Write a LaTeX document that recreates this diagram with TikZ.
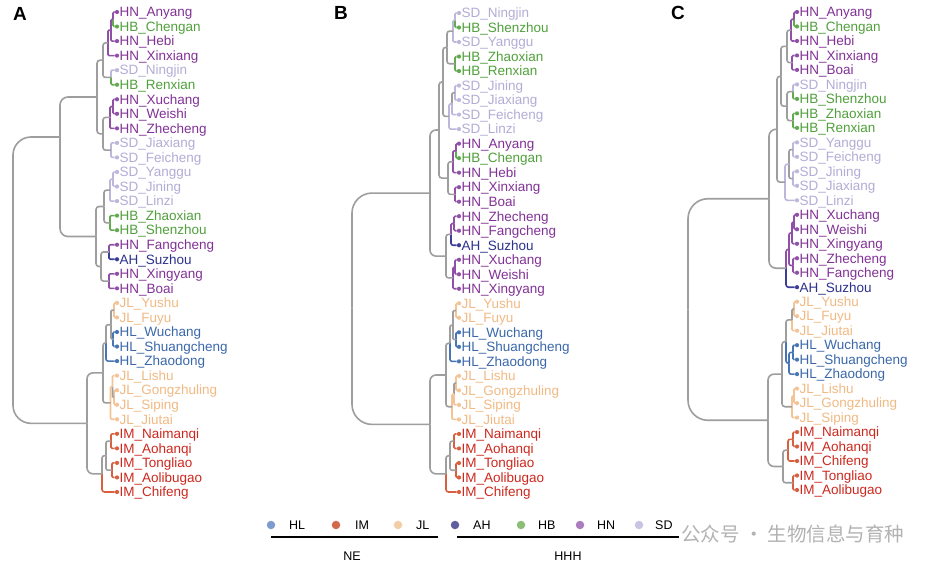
\documentclass[tikz,border=0pt]{standalone}
\usepackage{fontspec}
\setmainfont{Liberation Sans}
\newfontfamily\cjk{Noto Sans CJK SC}
\usetikzlibrary{calc}
\definecolor{HL}{RGB}{72,118,180}\definecolor{HLt}{RGB}{58,104,170}
\definecolor{IM}{RGB}{216,96,62}\definecolor{IMt}{RGB}{205,40,30}
\definecolor{JL}{RGB}{243,196,150}\definecolor{JLt}{RGB}{241,186,132}
\definecolor{AH}{RGB}{58,62,150}\definecolor{AHt}{RGB}{45,50,140}
\definecolor{HB}{RGB}{98,170,78}\definecolor{HBt}{RGB}{80,160,60}
\definecolor{HN}{RGB}{145,80,168}\definecolor{HNt}{RGB}{130,50,150}
\definecolor{SD}{RGB}{188,184,220}\definecolor{SDt}{RGB}{178,173,214}
\definecolor{GR}{RGB}{158,158,158}
\definecolor{LHL}{RGB}{125,155,205}\definecolor{LIM}{RGB}{210,105,75}
\definecolor{LJL}{RGB}{243,205,165}\definecolor{LAH}{RGB}{95,95,160}
\definecolor{LHB}{RGB}{140,190,120}\definecolor{LHN}{RGB}{170,125,190}
\definecolor{LSD}{RGB}{200,196,225}
\newcommand\leaf[4]{%
  \node[dot,fill=#3] (#1t#2) at (\tx,{\yz+(#2-1)*\dd}) {};
  \node[lab,text=#3t] (#1L#2) at (#1t#2) {#3\_#4};}
\newcommand\nd[4]{%
  \path ($(#3)!0.5!(#4)$) coordinate (#1m);
  \coordinate (#1) at (#1m -| #2,0);}
\newcommand\ed[4][1.2pt]{\draw[br,draw=#2,rounded corners=#1] (#3) |- (#4);}
\begin{document}
\begin{tikzpicture}[x=1pt,y=-1pt,
  br/.style={line width=1.6pt},
  dot/.style={circle,inner sep=0pt,minimum size=4.2pt,draw=none},
  lab/.style={anchor=base west,inner sep=0pt,xshift=2.4pt,yshift=-4.8pt,font=\fontsize{13.5}{15}\selectfont},
  panel/.style={anchor=base west,inner sep=0pt,font=\bfseries\fontsize{19}{21}\selectfont},
  ldot/.style={circle,inner sep=0pt,minimum size=8.5pt,draw=none},
  ltx/.style={anchor=west,inner sep=0pt,font=\fontsize{12.5}{14}\selectfont},
  gtx/.style={inner sep=0pt,font=\fontsize{12.5}{14}\selectfont}]
\fill[white] (0,0) rectangle (936,569);
\useasboundingbox (0,0) rectangle (936,569);
% ================= Panel A
\node[panel] (pA) at (13,20.5) {A};
\def\tx{117}\def\yz{12}\def\dd{14.545}
\leaf{A}{1}{HN}{Anyang}\leaf{A}{2}{HB}{Chengan}\leaf{A}{3}{HN}{Hebi}
\leaf{A}{4}{HN}{Xinxiang}\leaf{A}{5}{SD}{Ningjin}\leaf{A}{6}{HB}{Renxian}
\leaf{A}{7}{HN}{Xuchang}\leaf{A}{8}{HN}{Weishi}\leaf{A}{9}{HN}{Zhecheng}
\leaf{A}{10}{SD}{Jiaxiang}\leaf{A}{11}{SD}{Feicheng}\leaf{A}{12}{SD}{Yanggu}
\leaf{A}{13}{SD}{Jining}\leaf{A}{14}{SD}{Linzi}\leaf{A}{15}{HB}{Zhaoxian}
\leaf{A}{16}{HB}{Shenzhou}\leaf{A}{17}{HN}{Fangcheng}\leaf{A}{18}{AH}{Suzhou}
\leaf{A}{19}{HN}{Xingyang}\leaf{A}{20}{HN}{Boai}\leaf{A}{21}{JL}{Yushu}
\leaf{A}{22}{JL}{Fuyu}\leaf{A}{23}{HL}{Wuchang}\leaf{A}{24}{HL}{Shuangcheng}
\leaf{A}{25}{HL}{Zhaodong}\leaf{A}{26}{JL}{Lishu}\leaf{A}{27}{JL}{Gongzhuling}
\leaf{A}{28}{JL}{Siping}\leaf{A}{29}{JL}{Jiutai}\leaf{A}{30}{IM}{Naimanqi}
\leaf{A}{31}{IM}{Aohanqi}\leaf{A}{32}{IM}{Tongliao}\leaf{A}{33}{IM}{Aolibugao}
\leaf{A}{34}{IM}{Chifeng}
\nd{An1}{113}{At1}{At2}\nd{An2}{111}{An1}{At3}\nd{An3}{108}{An2}{At4}
\nd{An4}{111}{At5}{At6}\nd{An5}{103}{An3}{An4}
\nd{An6}{113}{At7}{At8}\nd{An7}{110}{An6}{At9}\nd{An8}{111}{At10}{At11}
\nd{An9}{103}{An7}{An8}\nd{An10}{97}{An5}{An9}
\nd{An11}{113}{At12}{At13}\nd{An12}{110}{An11}{At14}\nd{An13}{110}{At15}{At16}
\nd{An14}{104}{An12}{An13}\nd{An15}{109}{At17}{At18}\nd{An16}{109}{At19}{At20}
\nd{An17}{101}{An15}{An16}\nd{An18}{96}{An14}{An17}
\coordinate (An19) at (60,137);
\nd{An20}{114}{At21}{At22}\nd{An21}{113}{At23}{At24}\nd{An22}{111}{An20}{An21}
\nd{An23}{106}{An22}{At25}\nd{An24}{114}{At27}{At28}\nd{An25}{112.5}{At26}{An24}
\nd{An26}{110.5}{An25}{At29}\nd{An27}{103}{An23}{An26}
\nd{An28}{111}{At30}{At31}\nd{An29}{112}{At32}{At33}\nd{An30}{106}{An28}{An29}
\nd{An31}{102}{An30}{At34}\nd{An32}{87}{An27}{An31}
\nd{Ar}{13}{An19}{An32}
\ed{HN}{An1}{At1}\ed{HB}{An1}{At2}\ed{HN}{An2}{An1}\ed{HN}{An2}{At3}
\ed{HN}{An3}{An2}\ed{HN}{An3}{At4}\ed{SD}{An4}{At5}\ed{HB}{An4}{At6}
\ed[2.5pt]{GR}{An5}{An3}\ed[2.5pt]{GR}{An5}{An4}
\ed{HN}{An6}{At7}\ed{HN}{An6}{At8}\ed{HN}{An7}{An6}\ed{HN}{An7}{At9}
\ed{SD}{An8}{At10}\ed{SD}{An8}{At11}
\ed[2.5pt]{GR}{An9}{An7}\ed[2.5pt]{GR}{An9}{An8}
\ed[3pt]{GR}{An10}{An5}\ed[3pt]{GR}{An10}{An9}
\ed{SD}{An11}{At12}\ed{SD}{An11}{At13}\ed{SD}{An12}{An11}\ed{SD}{An12}{At14}
\ed{HB}{An13}{At15}\ed{HB}{An13}{At16}
\ed[2.5pt]{GR}{An14}{An12}\ed[2.5pt]{GR}{An14}{An13}
\ed{HN}{An15}{At17}\ed{AH}{An15}{At18}\ed{HN}{An16}{At19}\ed{HN}{An16}{At20}
\ed[2.5pt]{GR}{An17}{An15}\ed[2.5pt]{GR}{An17}{An16}
\ed[3pt]{GR}{An18}{An14}\ed[3pt]{GR}{An18}{An17}
\ed[8pt]{GR}{An19}{An10}\ed[8pt]{GR}{An19}{An18}
\ed{JL}{An20}{At21}\ed{JL}{An20}{At22}\ed{HL}{An21}{At23}\ed{HL}{An21}{At24}
\ed{GR}{An22}{An20}\ed{GR}{An22}{An21}\ed[2pt]{GR}{An23}{An22}\ed[2pt]{HL}{An23}{At25}
\ed{JL}{An24}{At27}\ed{JL}{An24}{At28}\ed{JL}{An25}{At26}\ed{GR}{An25}{An24}
\ed{JL}{An26}{An25}\ed{JL}{An26}{At29}
\ed[2.5pt]{GR}{An27}{An23}\ed[2.5pt]{GR}{An27}{An26}
\ed{IM}{An28}{At30}\ed{IM}{An28}{At31}\ed{IM}{An29}{At32}\ed{IM}{An29}{At33}
\ed[2pt]{GR}{An30}{An28}\ed[2pt]{GR}{An30}{An29}
\ed[2.5pt]{GR}{An31}{An30}\ed[2.5pt]{IM}{An31}{At34}
\ed[6pt]{GR}{An32}{An27}\ed[6pt]{GR}{An32}{An31}
\ed[18pt]{GR}{Ar}{An19}\ed[18pt]{GR}{Ar}{An32}
% ================= Panel B
\node[panel] (pB) at (334,20) {B};
\def\tx{459}\def\yz{13}\def\dd{14.515}
\leaf{B}{1}{SD}{Ningjin}\leaf{B}{2}{HB}{Shenzhou}\leaf{B}{3}{SD}{Yanggu}
\leaf{B}{4}{HB}{Zhaoxian}\leaf{B}{5}{HB}{Renxian}\leaf{B}{6}{SD}{Jining}
\leaf{B}{7}{SD}{Jiaxiang}\leaf{B}{8}{SD}{Feicheng}\leaf{B}{9}{SD}{Linzi}
\leaf{B}{10}{HN}{Anyang}\leaf{B}{11}{HB}{Chengan}\leaf{B}{12}{HN}{Hebi}
\leaf{B}{13}{HN}{Xinxiang}\leaf{B}{14}{HN}{Boai}\leaf{B}{15}{HN}{Zhecheng}
\leaf{B}{16}{HN}{Fangcheng}\leaf{B}{17}{AH}{Suzhou}\leaf{B}{18}{HN}{Xuchang}
\leaf{B}{19}{HN}{Weishi}\leaf{B}{20}{HN}{Xingyang}\leaf{B}{21}{JL}{Yushu}
\leaf{B}{22}{JL}{Fuyu}\leaf{B}{23}{HL}{Wuchang}\leaf{B}{24}{HL}{Shuangcheng}
\leaf{B}{25}{HL}{Zhaodong}\leaf{B}{26}{JL}{Lishu}\leaf{B}{27}{JL}{Gongzhuling}
\leaf{B}{28}{JL}{Siping}\leaf{B}{29}{JL}{Jiutai}\leaf{B}{30}{IM}{Naimanqi}
\leaf{B}{31}{IM}{Aohanqi}\leaf{B}{32}{IM}{Tongliao}\leaf{B}{33}{IM}{Aolibugao}
\leaf{B}{34}{IM}{Chifeng}
\nd{Bn1}{455}{Bt1}{Bt2}\nd{Bn2}{453}{Bn1}{Bt3}\nd{Bn3}{455}{Bt4}{Bt5}
\nd{Bn4}{447}{Bn2}{Bn3}\nd{Bn5}{455}{Bt6}{Bt7}\nd{Bn6}{452}{Bn5}{Bt8}
\nd{Bn7}{449}{Bn6}{Bt9}\nd{Bn8}{443}{Bn4}{Bn7}
\nd{Bn9}{456}{Bt10}{Bt11}\nd{Bn10}{453}{Bn9}{Bt12}\nd{Bn11}{455}{Bt13}{Bt14}
\nd{Bn12}{448}{Bn10}{Bn11}\nd{Bn13}{439}{Bn8}{Bn12}
\nd{Bn14}{454}{Bt15}{Bt16}\nd{Bn15}{451}{Bn14}{Bt17}\nd{Bn16}{455}{Bt18}{Bt19}
\nd{Bn17}{453}{Bn16}{Bt20}\nd{Bn18}{446}{Bn15}{Bn17}\nd{Bn19}{430}{Bn13}{Bn18}
\nd{Bn20}{456}{Bt21}{Bt22}\nd{Bn21}{456}{Bt23}{Bt24}\nd{Bn22}{453}{Bn20}{Bn21}
\nd{Bn23}{450}{Bn22}{Bt25}\nd{Bn24}{456}{Bt26}{Bt27}\nd{Bn25}{454}{Bn24}{Bt28}
\nd{Bn26}{452}{Bn25}{Bt29}\nd{Bn27}{446}{Bn23}{Bn26}
\nd{Bn28}{454}{Bt30}{Bt31}\nd{Bn29}{456}{Bt32}{Bt33}\nd{Bn30}{450}{Bn28}{Bn29}
\nd{Bn31}{446}{Bn30}{Bt34}\nd{Bn32}{430}{Bn27}{Bn31}
\nd{Br}{352}{Bn19}{Bn32}
\ed{SD}{Bn1}{Bt1}\ed{HB}{Bn1}{Bt2}\ed{SD}{Bn2}{Bn1}\ed{SD}{Bn2}{Bt3}
\ed{HB}{Bn3}{Bt4}\ed{HB}{Bn3}{Bt5}\ed[2.5pt]{GR}{Bn4}{Bn2}\ed[2.5pt]{GR}{Bn4}{Bn3}
\ed{SD}{Bn5}{Bt6}\ed{SD}{Bn5}{Bt7}\ed{GR}{Bn6}{Bn5}\ed{SD}{Bn6}{Bt8}
\ed[2pt]{SD}{Bn7}{Bn6}\ed[2pt]{SD}{Bn7}{Bt9}
\ed[2.5pt]{GR}{Bn8}{Bn4}\ed[2.5pt]{GR}{Bn8}{Bn7}
\ed{HN}{Bn9}{Bt10}\ed{HB}{Bn9}{Bt11}\ed{HN}{Bn10}{Bn9}\ed{HN}{Bn10}{Bt12}
\ed{HN}{Bn11}{Bt13}\ed{HN}{Bn11}{Bt14}
\ed[2.5pt]{GR}{Bn12}{Bn10}\ed[2.5pt]{GR}{Bn12}{Bn11}
\ed[3pt]{GR}{Bn13}{Bn8}\ed[3pt]{GR}{Bn13}{Bn12}
\ed{HN}{Bn14}{Bt15}\ed{HN}{Bn14}{Bt16}\ed{HN}{Bn15}{Bn14}\ed[2pt]{AH}{Bn15}{Bt17}
\ed{HN}{Bn16}{Bt18}\ed{HN}{Bn16}{Bt19}\ed{HN}{Bn17}{Bn16}\ed{HN}{Bn17}{Bt20}
\ed[2.5pt]{GR}{Bn18}{Bn15}\ed[2.5pt]{GR}{Bn18}{Bn17}
\ed[6pt]{GR}{Bn19}{Bn13}\ed[6pt]{GR}{Bn19}{Bn18}
\ed{JL}{Bn20}{Bt21}\ed{JL}{Bn20}{Bt22}\ed{HL}{Bn21}{Bt23}\ed{HL}{Bn21}{Bt24}
\ed{GR}{Bn22}{Bn20}\ed{GR}{Bn22}{Bn21}\ed[2pt]{GR}{Bn23}{Bn22}\ed[2pt]{HL}{Bn23}{Bt25}
\ed{JL}{Bn24}{Bt26}\ed{JL}{Bn24}{Bt27}\ed{GR}{Bn25}{Bn24}\ed{JL}{Bn25}{Bt28}
\ed{JL}{Bn26}{Bn25}\ed{JL}{Bn26}{Bt29}
\ed[2.5pt]{GR}{Bn27}{Bn23}\ed[2.5pt]{GR}{Bn27}{Bn26}
\ed{IM}{Bn28}{Bt30}\ed{IM}{Bn28}{Bt31}\ed{IM}{Bn29}{Bt32}\ed{IM}{Bn29}{Bt33}
\ed[2pt]{GR}{Bn30}{Bn28}\ed[2pt]{GR}{Bn30}{Bn29}
\ed[2.5pt]{GR}{Bn31}{Bn30}\ed[2.5pt]{IM}{Bn31}{Bt34}
\ed[6pt]{GR}{Bn32}{Bn27}\ed[6pt]{GR}{Bn32}{Bn31}
\ed[20pt]{GR}{Br}{Bn19}\ed[20pt]{GR}{Br}{Bn32}
% ================= Panel C
\node[panel] (pC) at (671,20) {C};
\def\tx{797}\def\yz{12}\def\dd{14.485}
\leaf{C}{1}{HN}{Anyang}\leaf{C}{2}{HB}{Chengan}\leaf{C}{3}{HN}{Hebi}
\leaf{C}{4}{HN}{Xinxiang}\leaf{C}{5}{HN}{Boai}\leaf{C}{6}{SD}{Ningjin}
\leaf{C}{7}{HB}{Shenzhou}\leaf{C}{8}{HB}{Zhaoxian}\leaf{C}{9}{HB}{Renxian}
\leaf{C}{10}{SD}{Yanggu}\leaf{C}{11}{SD}{Feicheng}\leaf{C}{12}{SD}{Jining}
\leaf{C}{13}{SD}{Jiaxiang}\leaf{C}{14}{SD}{Linzi}\leaf{C}{15}{HN}{Xuchang}
\leaf{C}{16}{HN}{Weishi}\leaf{C}{17}{HN}{Xingyang}\leaf{C}{18}{HN}{Zhecheng}
\leaf{C}{19}{HN}{Fangcheng}\leaf{C}{20}{AH}{Suzhou}\leaf{C}{21}{JL}{Yushu}
\leaf{C}{22}{JL}{Fuyu}\leaf{C}{23}{JL}{Jiutai}\leaf{C}{24}{HL}{Wuchang}
\leaf{C}{25}{HL}{Shuangcheng}\leaf{C}{26}{HL}{Zhaodong}\leaf{C}{27}{JL}{Lishu}
\leaf{C}{28}{JL}{Gongzhuling}\leaf{C}{29}{JL}{Siping}\leaf{C}{30}{IM}{Naimanqi}
\leaf{C}{31}{IM}{Aohanqi}\leaf{C}{32}{IM}{Chifeng}\leaf{C}{33}{IM}{Tongliao}
\leaf{C}{34}{IM}{Aolibugao}
\nd{Cn1}{794}{Ct1}{Ct2}\nd{Cn2}{791}{Cn1}{Ct3}\nd{Cn3}{792}{Ct4}{Ct5}
\nd{Cn4}{787}{Cn2}{Cn3}\nd{Cn5}{793}{Ct6}{Ct7}\nd{Cn6}{793}{Ct8}{Ct9}
\nd{Cn7}{787}{Cn5}{Cn6}\nd{Cn8}{781}{Cn4}{Cn7}
\nd{Cn9}{793}{Ct10}{Ct11}\nd{Cn10}{793}{Ct12}{Ct13}\nd{Cn11}{789}{Cn9}{Cn10}
\nd{Cn12}{785}{Cn11}{Ct14}\nd{Cn13}{777}{Cn8}{Cn12}
\nd{Cn14}{794}{Ct15}{Ct16}\nd{Cn15}{792}{Cn14}{Ct17}\nd{Cn16}{793}{Ct18}{Ct19}
\nd{Cn17}{789}{Cn15}{Cn16}\nd{Cn18}{786}{Cn17}{Ct20}\nd{Cn19}{769}{Cn13}{Cn18}
\nd{Cn20}{794}{Ct21}{Ct22}\nd{Cn21}{792}{Cn20}{Ct23}\nd{Cn22}{793}{Ct24}{Ct25}
\nd{Cn23}{789}{Cn22}{Ct26}\nd{Cn24}{786}{Cn21}{Cn23}
\nd{Cn25}{794}{Ct27}{Ct28}\nd{Cn26}{792}{Cn25}{Ct29}\nd{Cn27}{782}{Cn24}{Cn26}
\nd{Cn28}{793}{Ct30}{Ct31}\nd{Cn29}{788}{Cn28}{Ct32}\nd{Cn30}{793}{Ct33}{Ct34}
\nd{Cn31}{783}{Cn29}{Cn30}\nd{Cn32}{768}{Cn27}{Cn31}
\nd{Cr}{688}{Cn19}{Cn32}
\ed{HN}{Cn1}{Ct1}\ed{HB}{Cn1}{Ct2}\ed{HN}{Cn2}{Cn1}\ed{HN}{Cn2}{Ct3}
\ed{HN}{Cn3}{Ct4}\ed{HN}{Cn3}{Ct5}\ed[2.5pt]{GR}{Cn4}{Cn2}\ed[2.5pt]{GR}{Cn4}{Cn3}
\ed{SD}{Cn5}{Ct6}\ed{HB}{Cn5}{Ct7}\ed{HB}{Cn6}{Ct8}\ed{HB}{Cn6}{Ct9}
\ed[2.5pt]{GR}{Cn7}{Cn5}\ed[2.5pt]{GR}{Cn7}{Cn6}
\ed[2.5pt]{GR}{Cn8}{Cn4}\ed[2.5pt]{GR}{Cn8}{Cn7}
\ed{SD}{Cn9}{Ct10}\ed{SD}{Cn9}{Ct11}\ed{SD}{Cn10}{Ct12}\ed{SD}{Cn10}{Ct13}
\ed[2pt]{GR}{Cn11}{Cn9}\ed[2pt]{GR}{Cn11}{Cn10}
\ed[2.5pt]{SD}{Cn12}{Cn11}\ed[2.5pt]{SD}{Cn12}{Ct14}
\ed[3pt]{GR}{Cn13}{Cn8}\ed[3pt]{GR}{Cn13}{Cn12}
\ed{HN}{Cn14}{Ct15}\ed{HN}{Cn14}{Ct16}\ed{HN}{Cn15}{Cn14}\ed{HN}{Cn15}{Ct17}
\ed{HN}{Cn16}{Ct18}\ed{HN}{Cn16}{Ct19}\ed[2pt]{HN}{Cn17}{Cn15}\ed[2pt]{HN}{Cn17}{Cn16}
\ed[2.5pt]{HN}{Cn18}{Cn17}\ed[2.5pt]{AH}{Cn18}{Ct20}
\ed[7pt]{GR}{Cn19}{Cn13}\ed[7pt]{GR}{Cn19}{Cn18}
\ed{JL}{Cn20}{Ct21}\ed{JL}{Cn20}{Ct22}\ed{GR}{Cn21}{Cn20}\ed{JL}{Cn21}{Ct23}
\ed{HL}{Cn22}{Ct24}\ed{HL}{Cn22}{Ct25}\ed[2pt]{HL}{Cn23}{Cn22}\ed[2pt]{HL}{Cn23}{Ct26}
\ed[2.5pt]{GR}{Cn24}{Cn21}\ed[2.5pt]{HL}{Cn24}{Cn23}
\ed{JL}{Cn25}{Ct27}\ed{JL}{Cn25}{Ct28}\ed{JL}{Cn26}{Cn25}\ed{JL}{Cn26}{Ct29}
\ed[3pt]{GR}{Cn27}{Cn24}\ed[3pt]{GR}{Cn27}{Cn26}
\ed{IM}{Cn28}{Ct30}\ed{IM}{Cn28}{Ct31}\ed[2pt]{IM}{Cn29}{Cn28}\ed[2pt]{IM}{Cn29}{Ct32}
\ed{IM}{Cn30}{Ct33}\ed{IM}{Cn30}{Ct34}
\ed[2.5pt]{GR}{Cn31}{Cn29}\ed[2.5pt]{GR}{Cn31}{Cn30}
\ed[6pt]{GR}{Cn32}{Cn27}\ed[6pt]{GR}{Cn32}{Cn31}
\ed[20pt]{GR}{Cr}{Cn19}\ed[20pt]{GR}{Cr}{Cn32}
% ================= Legend
\node[ldot,fill=LHL] (gHL) at (271,525) {};\node[ltx] (tHL) at (289,525) {HL};
\node[ldot,fill=LIM] (gIM) at (336,525) {};\node[ltx] (tIM) at (355,525) {IM};
\node[ldot,fill=LJL] (gJL) at (398,525) {};\node[ltx] (tJL) at (416,525) {JL};
\node[ldot,fill=LAH] (gAH) at (455,525) {};\node[ltx] (tAH) at (473,525) {AH};
\node[ldot,fill=LHB] (gHB) at (521,525) {};\node[ltx] (tHB) at (538,525) {HB};
\node[ldot,fill=LHN] (gHN) at (580,525) {};\node[ltx] (tHN) at (597,525) {HN};
\node[ldot,fill=LSD] (gSD) at (639,525) {};\node[ltx] (tSD) at (655,525) {SD};
\coordinate (ne1) at (271,537);\coordinate (ne2) at (438,537);
\coordinate (hh1) at (457,537);\coordinate (hh2) at (679,537);
\draw[line width=1.6pt] (ne1) -- (ne2);
\draw[line width=1.6pt] (hh1) -- (hh2);
\node[gtx] (tNE) at (352,556) {NE};
\node[gtx] (tHHH) at (568,556) {HHH};
% watermark
\node[anchor=base west,inner sep=0pt,text=black!30,font=\cjk\fontsize{19.5}{22}\selectfont] (wm) at (681,541) {公众号 · 生物信息与育种};
\end{tikzpicture}
\end{document}
